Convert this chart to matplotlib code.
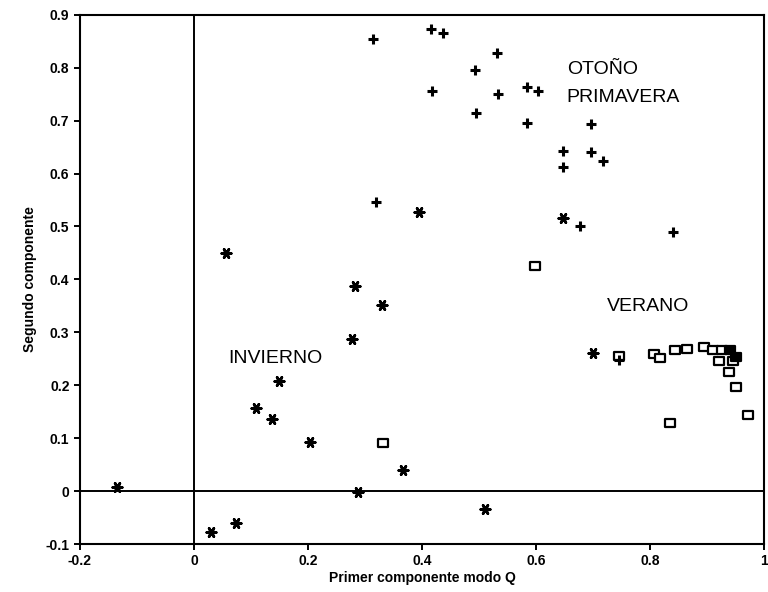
import matplotlib

matplotlib.use("Agg")
import matplotlib.pyplot as plt
from matplotlib.path import Path

plt.rcParams["font.family"] = ["Liberation Sans", "DejaVu Sans"]

# Otoño / primavera (cruces)
otono_x = [0.314, 0.416, 0.437, 0.532, 0.493, 0.418, 0.495, 0.533, 0.584, 0.604,
           0.584, 0.696, 0.647, 0.696, 0.718, 0.647, 0.319, 0.677, 0.840, 0.746]
otono_y = [0.855, 0.873, 0.866, 0.828, 0.796, 0.756, 0.715, 0.751, 0.764, 0.756,
           0.696, 0.694, 0.643, 0.641, 0.624, 0.613, 0.547, 0.501, 0.490, 0.248]

# Invierno (asteriscos)
invierno_x = [0.395, 0.056, 0.282, 0.330, 0.277, 0.149, 0.109, 0.137, 0.204,
              -0.135, 0.030, 0.074, 0.288, 0.367, 0.511, 0.700, 0.647]
invierno_y = [0.528, 0.449, 0.388, 0.352, 0.288, 0.208, 0.157, 0.136, 0.093,
              0.008, -0.077, -0.060, -0.002, 0.040, -0.034, 0.261, 0.516]

# Verano (cuadrados)
verano_x = [0.598, 0.332, 0.746, 0.807, 0.818, 0.844, 0.865, 0.895, 0.911,
            0.926, 0.921, 0.946, 0.939, 0.951, 0.972, 0.835]
verano_y = [0.425, 0.091, 0.255, 0.259, 0.252, 0.267, 0.268, 0.272, 0.267,
            0.267, 0.246, 0.246, 0.225, 0.197, 0.144, 0.129]
verano_lleno_x = [0.940, 0.951]
verano_lleno_y = [0.267, 0.253]

x_ticks = [-0.2, 0, 0.2, 0.4, 0.6, 0.8, 1]
x_tick_labels = ["-0.2", "0", "0.2", "0.4", "0.6", "0.8", "1"]
y_ticks = [-0.1, 0, 0.1, 0.2, 0.3, 0.4, 0.5, 0.6, 0.7, 0.8, 0.9]
y_tick_labels = ["-0.1", "0", "0.1", "0.2", "0.3", "0.4", "0.5", "0.6", "0.7", "0.8", "0.9"]

rect = Path([(-1.35, -1), (1.35, -1), (1.35, 1), (-1.35, 1), (-1.35, -1)],
            [Path.MOVETO, Path.LINETO, Path.LINETO, Path.LINETO, Path.CLOSEPOLY])

fig = plt.figure(figsize=(7.68, 5.92), dpi=100)
ax = fig.add_axes([0.104, 0.081, 0.891, 0.894])

ax.axhline(0, color="black", linewidth=1.4, zorder=1)
ax.axvline(0, color="black", linewidth=1.4, zorder=1)

ax.scatter(otono_x, otono_y, marker="+", s=55, color="black",
           linewidths=2.2, zorder=3)
ax.scatter(invierno_x, invierno_y, marker=(6, 2, 90), s=45, color="black",
           linewidths=2.0, zorder=3)
ax.scatter(verano_x, verano_y, marker=rect, s=50, facecolors="white",
           edgecolors="black", linewidths=1.6, zorder=2)
ax.scatter(verano_lleno_x, verano_lleno_y, marker=rect, s=50, color="black",
           linewidths=1.6, zorder=2)

ax.text(0.654, 0.797, "OTOÑO", fontsize=14, va="center", ha="left")
ax.text(0.654, 0.744, "PRIMAVERA", fontsize=14, va="center", ha="left")
ax.text(0.725, 0.348, "VERANO", fontsize=14, va="center", ha="left")
ax.text(0.060, 0.250, "INVIERNO", fontsize=14, va="center", ha="left")

ax.set_xlim(-0.2, 1.0)
ax.set_ylim(-0.1, 0.9)
ax.set_xticks(x_ticks, x_tick_labels)
ax.set_yticks(y_ticks, y_tick_labels)
ax.tick_params(direction="out", length=4, width=1.4, labelsize=10)
for lab in ax.get_xticklabels() + ax.get_yticklabels():
    lab.set_fontweight("bold")
for side in ax.spines.values():
    side.set_linewidth(1.5)

ax.set_xlabel("Primer componente modo Q", fontsize=10, fontweight="bold", labelpad=2)
ax.set_ylabel("Segundo componente", fontsize=10, fontweight="bold", labelpad=6)

fig.savefig("out.png", dpi=100)
